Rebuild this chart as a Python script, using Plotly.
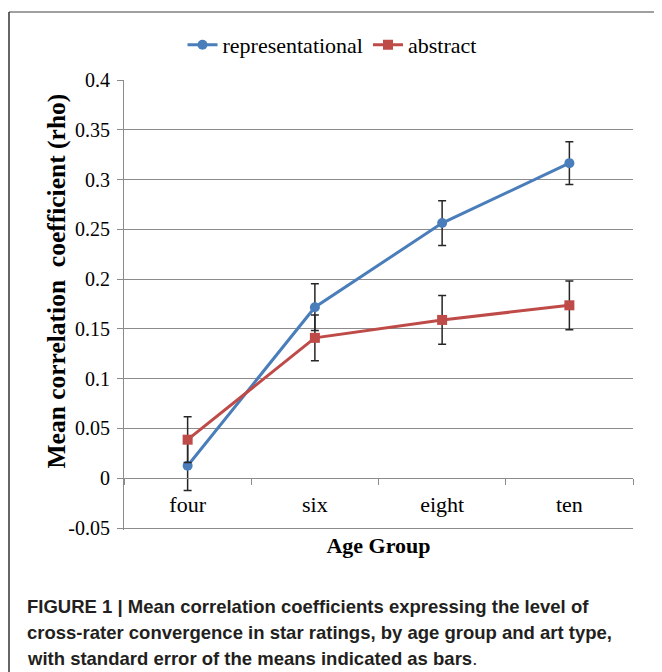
import plotly.graph_objects as go

# ---- data ----
age_groups = ["four", "six", "eight", "ten"]
representational = [0.0126, 0.1718, 0.2563, 0.3165]
representational_se = [0.025, 0.0235, 0.0225, 0.0215]
abstract = [0.0387, 0.141, 0.159, 0.1737]
abstract_se = [0.023, 0.023, 0.0245, 0.0245]
y_ticks = [-0.05, 0, 0.05, 0.1, 0.15, 0.2, 0.25, 0.3, 0.35, 0.4]
y_tick_labels = ["-0.05", "0", "0.05", "0.1", "0.15", "0.2", "0.25", "0.3", "0.35", "0.4"]
caption_lines = [
    "<b>FIGURE 1 | Mean correlation coefficients expressing the level of</b>",
    "<b>cross-rater convergence in star ratings, by age group and art type,</b>",
    "<b>with standard error of the means indicated as bars</b>.",
]

OFF = 8  # page body margin
W, H = 662 - OFF, 672 - OFF
# plot area in screen px (0.4 at T, -0.052 at B)
L, R, T, B = 124, 633, 80, 530


def px(x):
    return (x - L) / (R - L)


def py(y):
    return (B - y) / (B - T)


SERIF = "Liberation Serif"
BLUE = "#4a7ebb"
RED = "#be4b48"
GRID = "#8c8c8c"

fig = go.Figure()
fig.add_trace(go.Scatter(
    x=age_groups, y=representational, name="representational",
    mode="lines+markers",
    line=dict(color=BLUE, width=3),
    marker=dict(symbol="circle", size=10, color=BLUE),
    error_y=dict(type="data", array=representational_se, color="#262626",
                 thickness=1.5, width=4),
))
fig.add_trace(go.Scatter(
    x=age_groups, y=abstract, name="abstract",
    mode="lines+markers",
    line=dict(color=RED, width=3),
    marker=dict(symbol="square", size=10, color=RED),
    error_y=dict(type="data", array=abstract_se, color="#262626",
                 thickness=1.5, width=4),
))

ymin, ymax = -0.052, 0.4
fig.update_layout(
    width=W, height=H,
    margin=dict(l=L - OFF, r=662 - R, t=T - OFF, b=672 - B, pad=0),
    paper_bgcolor="white", plot_bgcolor="white",
    font=dict(family=SERIF, color="black"),
    showlegend=True,
    legend=dict(orientation="h", x=px(332), xanchor="center", y=py(45), yanchor="middle",
                font=dict(family=SERIF, size=22, color="black"), itemwidth=30,
                bgcolor="rgba(0,0,0,0)"),
    xaxis=dict(
        type="category", range=[-0.5, 3.5],
        anchor="free", position=(0 - ymin) / (ymax - ymin),
        showline=True, linecolor=GRID, linewidth=1.2,
        ticks="outside", tickson="boundaries", ticklen=6, tickcolor=GRID, tickwidth=1.2,
        showgrid=False, zeroline=False,
        tickfont=dict(family=SERIF, size=22, color="black"),
        ticklabelstandoff=6,
        title=dict(text="<b>Age Group</b>", font=dict(family=SERIF, size=22, color="black"),
                   standoff=21),
    ),
    yaxis=dict(
        range=[ymin, ymax], tickvals=y_ticks, ticktext=y_tick_labels,
        showline=True, linecolor=GRID, linewidth=1.2,
        ticks="outside", ticklen=6, tickcolor=GRID, tickwidth=1.2,
        showgrid=True, gridcolor=GRID, gridwidth=1,
        zeroline=False,
        tickfont=dict(family=SERIF, size=20, color="black"),
        ticklabelstandoff=3,
    ),
)

# y-axis title
fig.add_annotation(
    text="<b>Mean correlation  coefficient (rho)</b>", textangle=-90,
    xref="paper", yref="paper", x=px(56), y=py(281.5), xanchor="center", yanchor="middle",
    showarrow=False, font=dict(family=SERIF, size=25.5, color="black"),
)

# caption
for i, line in enumerate(caption_lines):
    fig.add_annotation(
        text=line, xref="paper", yref="paper", x=px(25), y=py(606 + 26 * i),
        xanchor="left", yanchor="middle", showarrow=False,
        font=dict(family="Liberation Sans", size=18.5, color="#231f20"),
    )

# frame lines
fig.add_shape(type="line", xref="paper", yref="paper", x0=px(9), x1=px(662), y0=py(12), y1=py(12),
              line=dict(color="#808080", width=1.5))
fig.add_shape(type="line", xref="paper", yref="paper", x0=px(9), x1=px(9), y0=py(12), y1=py(672),
              line=dict(color="#333333", width=1.5))

fig.write_html("out.html")
